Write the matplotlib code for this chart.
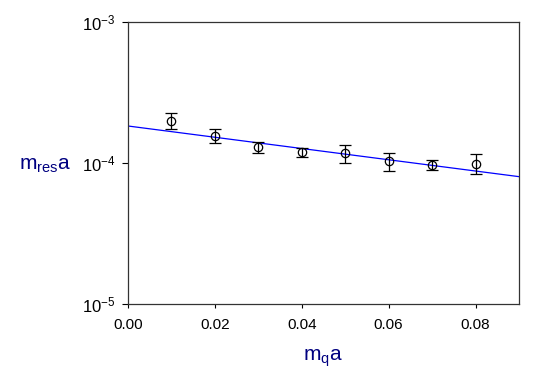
import numpy as np
import matplotlib.pyplot as plt

plt.rcParams['font.family'] = ['Liberation Sans', 'DejaVu Sans']
plt.rcParams['mathtext.fontset'] = 'custom'
plt.rcParams['mathtext.rm'] = 'Liberation Sans'
plt.rcParams['mathtext.it'] = 'Liberation Sans'

# data
mq = [0.01, 0.02, 0.03, 0.04, 0.05, 0.06, 0.07, 0.08]
mres = [2.00e-4, 1.56e-4, 1.30e-4, 1.19e-4, 1.17e-4, 1.03e-4, 0.973e-4, 0.99e-4]
err = [0.27e-4, 0.17e-4, 0.12e-4, 0.095e-4, 0.165e-4, 0.155e-4, 0.08e-4, 0.16e-4]

# exponential fit: A * exp(-b * mq)
fit_A = 1.83e-4
fit_b = 9.19

fig = plt.figure(figsize=(5.45, 3.84), dpi=100)
ax = fig.add_axes([0.2349, 0.2083, 0.7174, 0.7344])

xf = np.linspace(0, 0.09, 200)
ax.plot(xf, fit_A * np.exp(-fit_b * xf), color='blue', lw=0.9)

ax.errorbar(mq, mres, yerr=err, fmt='o', mfc='none', mec='black', ecolor='black',
            ms=6, mew=0.9, elinewidth=0.9, capsize=4, capthick=0.9)

ax.set_yscale('log')
ax.set_xlim(0, 0.09)
ax.set_ylim(1e-5, 1e-3)
ax.set_xticks([0.0, 0.02, 0.04, 0.06, 0.08])
ax.set_xticklabels(['0.00', '0.02', '0.04', '0.06', '0.08'])
ax.set_yticks([1e-5, 1e-4, 1e-3])
ax.set_yticklabels([r'10$^{\mathrm{-5}}$', r'10$^{\mathrm{-4}}$', r'10$^{\mathrm{-3}}$'])
ax.yaxis.set_minor_locator(plt.NullLocator())
ax.tick_params(axis='x', which='major', labelsize=11, direction='out', length=3, pad=7)
ax.tick_params(axis='y', which='major', labelsize=12, direction='out', length=4, pad=5)
for s in ax.spines.values():
    s.set_color('#333333')
    s.set_linewidth(0.9)

fig.text(0.593, 0.068, r'm$_\mathrm{q}$a', color='#000080', fontsize=15, ha='center', va='center')
fig.text(0.082, 0.57, r'm$_\mathrm{res}$a', color='#000080', fontsize=15, ha='center', va='center')

plt.savefig('out.png', dpi=100)
